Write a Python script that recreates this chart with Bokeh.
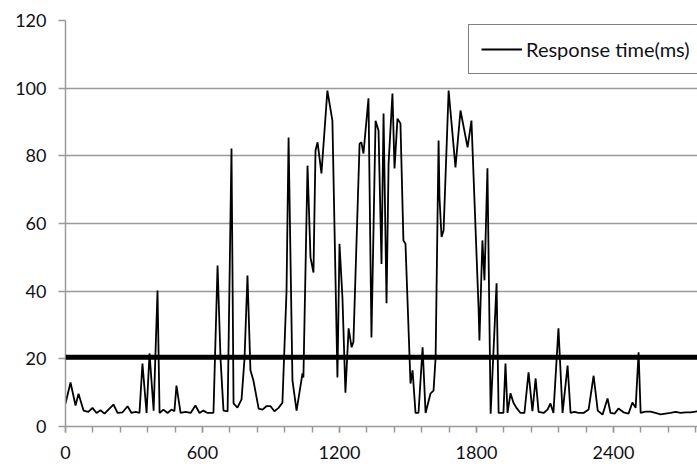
from bokeh.plotting import figure
from bokeh.models import Range1d, FixedTicker, Span, Legend, LegendItem
from bokeh.embed import file_html
from bokeh.resources import INLINE

# time stamps (x) and response times in ms (y)
t = [0, 22, 44, 57, 79, 100, 118, 136, 153, 171, 188, 210, 228, 250, 272, 289, 307, 324,
     337, 355, 368, 386, 403, 412, 429, 447, 464, 477, 486, 504, 526, 548, 569, 587, 604,
     622, 635, 648, 666, 679, 692, 710, 727, 736, 753, 771, 784, 797, 810, 823, 846, 863,
     880, 898, 915, 933, 950, 968, 977, 994, 1012, 1038, 1042, 1060, 1073, 1086, 1095,
     1104, 1121, 1147, 1169, 1191, 1200, 1213, 1226, 1240, 1253, 1261, 1288, 1296, 1305,
     1327, 1340, 1358, 1371, 1384, 1393, 1406, 1415, 1432, 1441, 1454, 1467, 1480, 1489,
     1511, 1520, 1533, 1546, 1564, 1577, 1599, 1612, 1621, 1634, 1638, 1647, 1656, 1678,
     1708, 1730, 1761, 1778, 1809, 1813, 1826, 1835, 1848, 1862, 1888, 1897, 1918, 1927,
     1936, 1949, 1962, 1975, 1993, 2010, 2028, 2045, 2059, 2072, 2094, 2111, 2124, 2137,
     2159, 2177, 2199, 2212, 2229, 2247, 2269, 2291, 2313, 2331, 2352, 2374, 2387, 2405,
     2422, 2444, 2466, 2483, 2497, 2510, 2519, 2540, 2562, 2584, 2606, 2628, 2650, 2672,
     2694, 2716, 2738, 2768]
rt = [6.8, 13, 6.2, 9.7, 4.7, 4.3, 5.5, 4.0, 4.8, 3.8, 5, 6.5, 4, 4.2, 6, 4, 4.3, 4,
      18.6, 4, 21.6, 4.7, 40.2, 4, 5, 4, 5, 4.5, 12.1, 4, 4.3, 4, 6.2, 4, 4.7,
      4, 4, 4, 47.6, 20, 4.7, 4.5, 82.2, 6.8, 5.6, 8, 20, 44.6, 16.6, 13.6, 5.3, 5,
      6, 6, 4.5, 5.5, 7, 40, 85.4, 13.6, 4.7, 15.7, 14.5, 77.1, 50, 45.5, 81.6,
      84, 74.8, 99.3, 90.4, 14.5, 54, 38, 10, 29, 23.4, 25, 83.6, 84, 80.7,
      97, 26.3, 90.4, 87.5, 48, 92.5, 36.4, 77.7, 98.4, 76.3, 91, 89.6, 55, 54,
      12.7, 16.6, 4, 4, 23.4, 4, 9.8, 10.6, 20.4, 84.5, 67.7, 56, 58, 99.3,
      76.6, 93.4, 82.5, 90.4, 35.2, 25.4, 55, 43.2, 76.3, 3.8, 42.3, 4, 4, 18.6,
      4, 9.8, 7, 5.5, 4, 4, 16, 4.5, 14.2, 4.3, 4, 5, 6.8, 4,
      29, 4, 18, 4, 4.3, 4, 4, 5, 15, 4.7, 3.5, 8.3, 4, 3.8,
      5.3, 4.2, 3.8, 7.1, 5.5, 21.9, 4, 4.4, 4.4, 4.0, 3.6, 3.8, 4.0, 4.3,
      4.0, 4.2, 4.2, 4.5]
threshold = 20.5
x_major = [0, 600, 1200, 1800, 2400]
x_minor = list(range(0, 2761, 120))
y_major = [0, 20, 40, 60, 80, 100, 120]
series_name = "Response time(ms)"

FONT = "Lato"
GRID = "#9a9a9a"
LABEL = "#111118"

p = figure(width=697, height=466, output_backend="svg", toolbar_location=None,
           x_range=Range1d(0, 2768), y_range=Range1d(0, 120),
           min_border_left=65, min_border_right=0, min_border_top=20, min_border_bottom=40)
p.outline_line_color = None
p.background_fill_color = "white"
p.border_fill_color = "white"

# axes
p.xaxis.ticker = FixedTicker(ticks=x_major, minor_ticks=x_minor)
p.yaxis.ticker = FixedTicker(ticks=y_major)
for ax in (p.xaxis, p.yaxis):
    ax.axis_line_color = GRID
    ax.axis_line_width = 1.5
    ax.major_tick_line_color = GRID
    ax.major_tick_line_width = 1.5
    ax.minor_tick_line_color = GRID
    ax.minor_tick_line_width = 1.5
    ax.major_tick_in = 0
    ax.minor_tick_in = 0
    ax.major_label_text_font = FONT
    ax.major_label_text_font_size = "18px"
    ax.major_label_text_color = LABEL
p.xaxis.major_tick_out = 6
p.xaxis.minor_tick_out = 6
p.xaxis.major_label_standoff = 13
p.yaxis.major_tick_out = 7
p.yaxis.minor_tick_out = 0
p.yaxis.major_label_standoff = 12

p.xgrid.grid_line_color = None
p.ygrid.grid_line_color = GRID
p.ygrid.grid_line_width = 1.5

r = p.line(t, rt, line_color="black", line_width=1.8)

p.add_layout(Span(location=threshold, dimension="width", line_color="black", line_width=5))

legend = Legend(items=[LegendItem(label=series_name, renderers=[r])],
                location=(403, 352), padding=12, spacing=0, margin=0,
                glyph_width=41, label_standoff=4,
                label_text_font=FONT, label_text_font_size="20px", label_text_color=LABEL,
                border_line_color="black", border_line_width=1.5,
                background_fill_color="white", background_fill_alpha=1)
p.add_layout(legend)

open("out.html", "w").write(file_html(p, INLINE))
